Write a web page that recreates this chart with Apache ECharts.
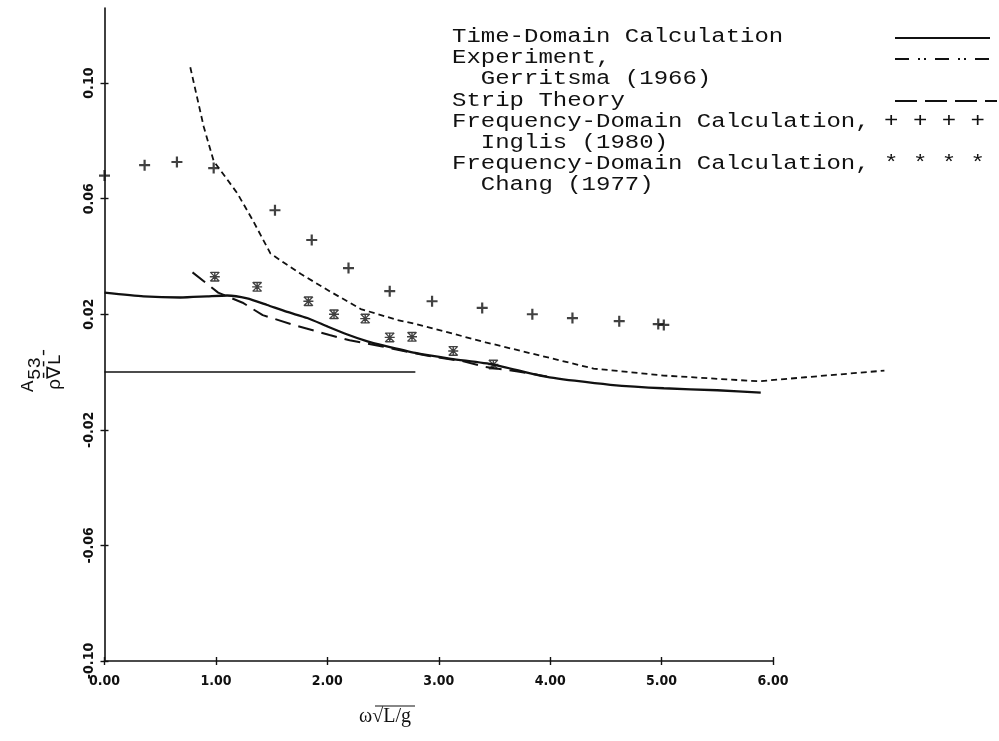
<!DOCTYPE html>
<html>
<head>
<meta charset="utf-8">
<script src="https://cdn.jsdelivr.net/npm/echarts@6/dist/echarts.min.js"></script>
<style>
  html, body { margin: 0; padding: 0; background: #fff; }
  #chart { width: 999px; height: 741px; }
</style>
</head>
<body>
<div id="chart"></div>
<script>
// Axis ticks
const xTicks = [0, 1, 2, 3, 4, 5, 6];
const yTicks = [-0.10, -0.06, -0.02, 0.02, 0.06, 0.10];

// Pitch-heave coupling added mass A53/(rho V L) against omega*sqrt(L/g)
const timeDomain = [
  [0.00, 0.0275], [0.35, 0.0262], [0.68, 0.0258], [0.92, 0.0262], [1.10, 0.0265],
  [1.28, 0.0255], [1.46, 0.0232], [1.64, 0.0208], [1.82, 0.0187], [2.00, 0.0158],
  [2.18, 0.0130], [2.36, 0.0106], [2.50, 0.0092], [2.79, 0.0066], [3.11, 0.0046],
  [3.49, 0.0026], [3.91, -0.0012], [4.22, -0.0030], [4.54, -0.0044], [5.02, -0.0056],
  [5.50, -0.0063], [5.89, -0.0071]
];
const experiment = [
  [0.77, 0.1055], [0.89, 0.0850], [0.98, 0.0730], [1.19, 0.0620], [1.33, 0.0526],
  [1.49, 0.0410], [1.76, 0.0340], [2.02, 0.0280], [2.30, 0.0218], [2.63, 0.0180],
  [2.79, 0.0167], [3.42, 0.0103], [4.39, 0.0012], [5.02, -0.0012], [5.87, -0.0032],
  [6.29, -0.0018], [7.00, 0.0005]
];
const stripTheory = [
  [0.79, 0.0345], [1.02, 0.0275], [1.24, 0.0240], [1.42, 0.0197], [1.70, 0.0163],
  [2.02, 0.0128], [2.20, 0.0110], [2.47, 0.0090], [2.89, 0.0057], [3.21, 0.0038],
  [3.42, 0.0018], [3.71, 0.0002], [3.97, -0.0015]
];
const inglis = [
  [0.00, 0.0680], [0.36, 0.0716], [0.65, 0.0727], [0.98, 0.0706], [1.53, 0.0560],
  [1.86, 0.0457], [2.19, 0.0360], [2.56, 0.0280], [2.94, 0.0245], [3.39, 0.0222],
  [3.84, 0.0200], [4.20, 0.0187], [4.62, 0.0176], [4.97, 0.0166], [5.02, 0.0163]
];
const chang = [
  [0.99, 0.0330], [1.37, 0.0295], [1.83, 0.0245], [2.06, 0.0200], [2.34, 0.0185],
  [2.56, 0.0120], [2.76, 0.0122], [3.13, 0.0073], [3.49, 0.0026]
];
const zeroLine = [[0.00, 0.0], [2.79, 0.0]];

const legendRows = [
  'Time-Domain Calculation',
  'Experiment,',
  '  Gerritsma (1966)',
  'Strip Theory',
  'Frequency-Domain Calculation, + + + +',
  '  Inglis (1980)',
  'Frequency-Domain Calculation, * * * *',
  '  Chang (1977)'
];

const ink = '#111';
const tickFont = {
  fontFamily: '"DejaVu Sans Condensed", "Liberation Sans", sans-serif',
  fontWeight: 'bold', fontSize: 14, color: ink
};
const monoFont = 'Liberation Mono';

const plusSymbol = 'path://M4,0h2v4h4v2h-4v4h-2v-4h-4v-2h4z';
const boxStarSymbol = 'path://M1,0h8v1.4h-8z M1,8.6h8v1.4h-8z M4.3,0h1.4v10h-1.4z M0,4.3h10v1.4h-10z ' +
  'M0.9,0L10,9.1L9.1,10L0,0.9z M9.1,0L10,0.9L0.9,10L0,9.1z';

// shared plot frame: the drawn axes stop at 6, the data area runs a little further right
const frame = { left: 104.5, top: 8, height: 653 };
const pxPerUnit = 668.5 / 6;
const dataXMax = 7.1;

const chart = echarts.init(document.getElementById('chart'), null, { renderer: 'canvas' });

const legendGraphics = [];
legendRows.forEach((row, i) => {
  legendGraphics.push({
    type: 'text', x: 452, y: 37 + i * 21.1, scaleX: 1.2,
    style: { text: row, font: '20px "' + monoFont + '"', fill: ink, verticalAlign: 'middle' }
  });
});
// line samples for the three curve entries
legendGraphics.push(
  { type: 'line', shape: { x1: 895, y1: 38, x2: 990, y2: 38 }, style: { stroke: ink, lineWidth: 2 } },
  { type: 'line', shape: { x1: 895, y1: 59, x2: 990, y2: 59 }, style: { stroke: ink, lineWidth: 1.8, lineDash: [14, 9, 2, 4, 2, 9] } },
  { type: 'line', shape: { x1: 895, y1: 101, x2: 997, y2: 101 }, style: { stroke: ink, lineWidth: 2, lineDash: [22, 8] } }
);

const hiddenAxis = { show: false, axisLine: { onZero: false }, splitLine: { show: false } };

const option = {
  animation: false,
  backgroundColor: '#fff',
  grid: [
    Object.assign({ width: pxPerUnit * 6 }, frame),
    Object.assign({ width: pxPerUnit * dataXMax }, frame)
  ],
  xAxis: [
    {
      gridIndex: 0, type: 'value', min: 0, max: 6, interval: 1,
      axisLine: { onZero: false, lineStyle: { color: ink, width: 1.6 } },
      axisTick: { length: 4, customValues: xTicks, lineStyle: { color: ink, width: 1.4 } },
      axisLabel: Object.assign({ margin: 13, customValues: xTicks, formatter: v => v.toFixed(2) }, tickFont),
      splitLine: { show: false }
    },
    {
      gridIndex: 0, type: 'value', min: 0, max: 6, interval: 1, position: 'bottom', offset: 0,
      axisLine: { show: false, onZero: false },
      axisTick: { inside: true, length: 4, customValues: xTicks, lineStyle: { color: ink, width: 1.4 } },
      axisLabel: { show: false }, splitLine: { show: false }
    },
    Object.assign({ gridIndex: 1, type: 'value', min: 0, max: dataXMax }, hiddenAxis)
  ],
  yAxis: [
    {
      gridIndex: 0, type: 'value', min: -0.10, max: 0.126, interval: 0.04,
      axisLine: { onZero: false, lineStyle: { color: ink, width: 1.6 } },
      axisTick: { length: 4, customValues: yTicks, lineStyle: { color: ink, width: 1.4 } },
      axisLabel: Object.assign({ margin: 8, rotate: 90, customValues: yTicks, formatter: v => v.toFixed(2) }, tickFont),
      splitLine: { show: false }
    },
    {
      gridIndex: 0, type: 'value', min: -0.10, max: 0.126, interval: 0.04, position: 'left', offset: 0,
      axisLine: { show: false, onZero: false },
      axisTick: { inside: true, length: 4, customValues: yTicks, lineStyle: { color: ink, width: 1.4 } },
      axisLabel: { show: false }, splitLine: { show: false }
    },
    Object.assign({ gridIndex: 1, type: 'value', min: -0.10, max: 0.126 }, hiddenAxis)
  ],
  graphic: [
    // ordinate name: A53 over rho*nabla*L, written sideways
    {
      type: 'group', x: 28, y: 392, rotation: Math.PI / 2,
      children: [
        { type: 'text', x: 0, y: 0, style: { text: 'A', font: '19px "' + monoFont + '"', fill: ink, verticalAlign: 'middle' } },
        { type: 'text', x: 12, y: 7, style: { text: '53', font: '19px "' + monoFont + '"', fill: ink, verticalAlign: 'middle' } },
        { type: 'text', x: 11, y: 16, style: { text: '---', font: '19px "' + monoFont + '"', fill: ink, verticalAlign: 'middle' } },
        { type: 'text', x: 2, y: 27, style: { text: 'ρ∇L', font: '19px "' + monoFont + '"', fill: ink, verticalAlign: 'middle' } }
      ]
    },
    // abscissa name
    {
      type: 'group', x: 385, y: 717,
      children: [
        { type: 'text', x: 0, y: 0, style: { text: 'ω√L/g', font: '20px "Liberation Serif"', fill: ink, align: 'center', verticalAlign: 'middle' } },
        { type: 'line', shape: { x1: -10, y1: -11, x2: 30, y2: -11 }, style: { stroke: ink, lineWidth: 1.2 } }
      ]
    }
  ].concat(legendGraphics),
  series: [
    { name: 'zero', type: 'line', xAxisIndex: 2, yAxisIndex: 2, data: zeroLine, symbol: 'none',
      lineStyle: { color: ink, width: 1.6 }, silent: true },
    { name: 'Time-Domain Calculation', type: 'line', xAxisIndex: 2, yAxisIndex: 2, data: timeDomain,
      symbol: 'none', smooth: 0.2, lineStyle: { color: ink, width: 2.3 } },
    { name: 'Experiment, Gerritsma (1966)', type: 'line', xAxisIndex: 2, yAxisIndex: 2, data: experiment,
      symbol: 'none', lineStyle: { color: ink, width: 1.8, type: [6, 4] } },
    { name: 'Strip Theory', type: 'line', xAxisIndex: 2, yAxisIndex: 2, data: stripTheory,
      symbol: 'none', lineStyle: { color: ink, width: 2, type: [16, 8] } },
    { name: 'Frequency-Domain Calculation, Inglis (1980)', type: 'scatter', xAxisIndex: 2, yAxisIndex: 2,
      data: inglis, symbol: plusSymbol, symbolSize: 11, itemStyle: { color: ink } },
    { name: 'Frequency-Domain Calculation, Chang (1977)', type: 'scatter', xAxisIndex: 2, yAxisIndex: 2,
      data: chang, symbol: boxStarSymbol, symbolSize: 10, itemStyle: { color: ink } }
  ]
};

chart.setOption(option);
</script>
</body>
</html>
